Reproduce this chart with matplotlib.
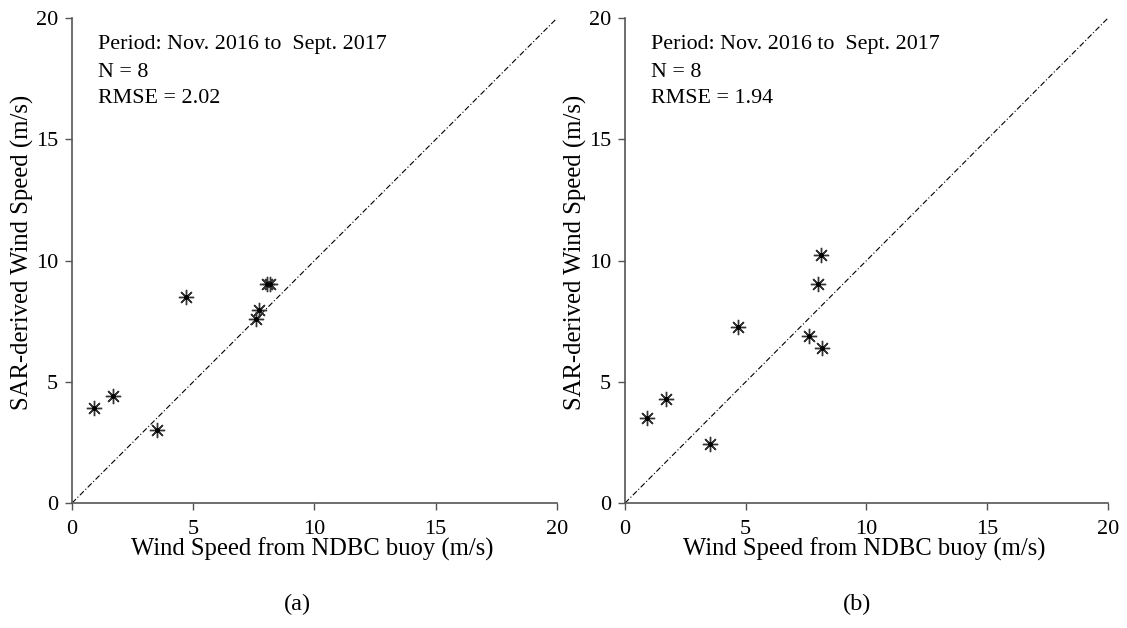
import numpy as np
import matplotlib
import matplotlib.pyplot as plt
matplotlib.use('Agg')

plt.rcParams['font.family'] = ['Liberation Serif', 'DejaVu Serif']

# buoy (x) vs SAR-derived (y) wind speeds, m/s
buoy_a = [0.9, 1.7, 3.5, 4.7, 7.6, 7.7, 8.05, 8.15]
sar_a = [3.9, 4.4, 3.0, 8.5, 7.6, 7.95, 9.05, 9.05]
buoy_b = [0.9, 1.7, 3.5, 4.7, 7.6, 8.15, 8.0, 8.1]
sar_b = [3.5, 4.3, 2.45, 7.25, 6.9, 6.4, 9.05, 10.25]

period = 'Period: Nov. 2016 to  Sept. 2017'
n_pts = 8
rmse = [2.02, 1.94]
panel_labels = ['(a)', '(b)']
ticks = [0, 5, 10, 15, 20]

fig = plt.figure(figsize=(11.27, 6.28), dpi=100)
ax_a = fig.add_axes([0.0639, 0.199, 0.4303, 0.772])
ax_b = fig.add_axes([0.5546, 0.199, 0.4284, 0.772])

panels = [(ax_a, buoy_a, sar_a), (ax_b, buoy_b, sar_b)]
for i, (ax, x, y) in enumerate(panels):
    ax.plot([0, 20], [0, 20], color='black', linestyle='-.', lw=0.8,
            dashes=(5, 2, 1, 2))
    ax.plot(x, y, linestyle='none', marker=(8, 2, 0), markersize=11,
            markeredgewidth=1.0, color='#333333')
    ax.plot(x, y, linestyle='none', marker='o', markersize=2.5, color='black')
    ax.set_xlim(0, 20)
    ax.set_ylim(0, 20)
    ax.set_xticks(ticks)
    ax.set_yticks(ticks)
    ax.spines['top'].set_visible(False)
    ax.spines['right'].set_visible(False)
    ax.spines['left'].set_color('#555555')
    ax.spines['bottom'].set_color('#555555')
    ax.spines['left'].set_linewidth(1.2)
    ax.spines['bottom'].set_linewidth(1.2)
    ax.tick_params(direction='out', length=5, width=1, color='#555555',
                   labelsize=16)
    ax.tick_params(axis='x', pad=7)
    ax.tick_params(axis='y', pad=5)
    ax.set_xlabel('Wind Speed from NDBC buoy (m/s)', fontsize=17.7)
    ax.xaxis.set_label_coords(0.495, -0.072)
    ax.set_ylabel('SAR-derived Wind Speed (m/s)', fontsize=17.8)
    ax.yaxis.set_label_coords(-0.078, 0.517)
    ax.text(0.053, 0.945, period, transform=ax.transAxes, fontsize=15.8,
            va='center', ha='left')
    ax.text(0.053, 0.889, 'N = %d' % n_pts, transform=ax.transAxes,
            fontsize=15.8, va='center', ha='left')
    ax.text(0.053, 0.835, 'RMSE = %.2f' % rmse[i], transform=ax.transAxes,
            fontsize=15.8, va='center', ha='left')

fig.text(297 / 1127, 1 - 604 / 628, panel_labels[0], fontsize=17.5,
         ha='center', va='center')
fig.text(857 / 1127, 1 - 604 / 628, panel_labels[1], fontsize=17.5,
         ha='center', va='center')

plt.savefig('out.png', dpi=100)
plt.close()
